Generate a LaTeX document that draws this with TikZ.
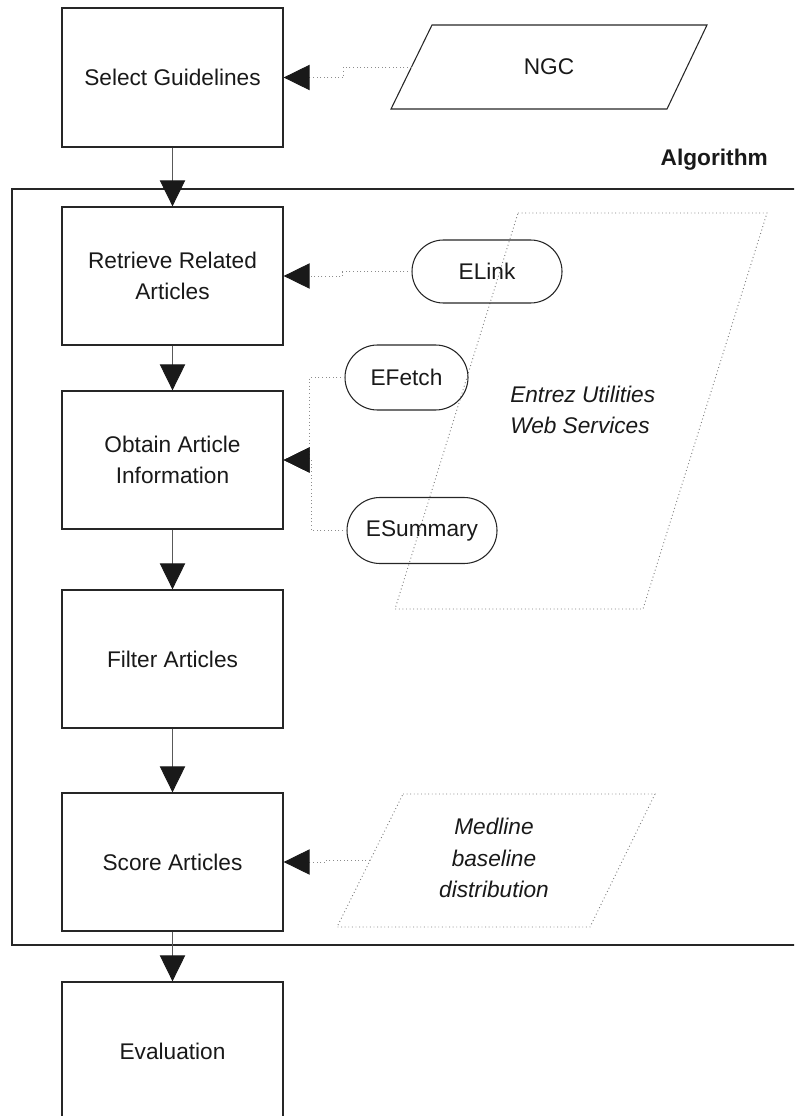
\documentclass[tikz,border=0pt]{standalone}
\usepackage{fontspec}
\setmainfont{Liberation Sans}
\usetikzlibrary{arrows.meta,shapes.misc}
\tikzset{
  procbox/.style={draw=black!85, line width=1pt, minimum width=165.75pt, minimum height=103.5pt, align=center, inner sep=0pt},
  svcbox/.style={rounded rectangle, draw=black!85, line width=0.8pt, inner sep=0pt},
  flow/.style={draw=black!65, line width=0.7pt, -{Triangle[length=19.5pt,width=19pt,color=black!90]}},
  conn/.style={draw=black!45, line width=0.7pt, dotted, -{Triangle[length=19.5pt,width=19pt,color=black!90]}},
  inputshape/.style={draw=black!85, line width=0.8pt},
  dataset/.style={draw=black!50, line width=0.7pt, dotted},
  lbl/.style={font=\fontsize{17}{23.5}\selectfont, text=black!90},
}
\begin{document}
\begin{tikzpicture}[x=0.75pt,y=-0.75pt]
\useasboundingbox (0,0) rectangle (794,1116);
\clip (0,0) rectangle (794,1116);

% Algorithm frame (open at the right)
\draw[black!85, line width=1pt] (800,189) -- (12,189) -- (12,945) -- (800,945);
\node[lbl, font=\fontsize{17}{23.5}\selectfont\bfseries, anchor=east, inner sep=0pt] (alg) at (768,160) {Algorithm};

% process boxes
\node[procbox, lbl, minimum height=104.25pt] (sg) at (172.5,77.5) {Select Guidelines};
\node[procbox, lbl] (rra) at (172.5,276) {Retrieve Related\\Articles};
\node[procbox, lbl] (oai) at (172.5,460) {Obtain Article\\Information};
\node[procbox, lbl] (fa) at (172.5,659) {Filter Articles};
\node[procbox, lbl] (sa) at (172.5,862) {Score Articles};
\node[procbox, lbl] (ev) at (172.5,1051) {Evaluation};

% NGC input
\draw[inputshape] (432,25) -- (707,25) -- (667,109) -- (391,109) -- cycle;
\node[lbl] (ngc) at (549,67) {NGC};
\coordinate (ngcL) at (411.5,67);

% Entrez Utilities dataset
\draw[dataset] (518,213) -- (767,213) -- (643,609) -- (395,609) -- cycle;
\node[lbl, font=\fontsize{17}{23.5}\selectfont\itshape, align=left, anchor=west, inner sep=0pt] (entrez) at (510,410) {Entrez Utilities\\Web Services};

% services
\node[svcbox, lbl, minimum width=112.5pt, minimum height=47.25pt] (elink) at (487,271.5) {ELink};
\node[svcbox, lbl, minimum width=92.25pt, minimum height=48.75pt] (efetch) at (406.5,377.5) {EFetch};
\node[svcbox, lbl, minimum width=112.5pt, minimum height=49.5pt] (esum) at (422,530.5) {ESummary};

% Medline dataset
\draw[dataset] (403,794) -- (655,794) -- (590,927) -- (337,927) -- cycle;
\node[lbl, font=\fontsize{17}{23.5}\selectfont\itshape, align=center] (med) at (494,858) {Medline\\baseline\\distribution};
\coordinate (medL) at (370,860.5);

% main flow
\draw[flow] (sg.south) -- (rra.north);
\draw[flow] (rra.south) -- (oai.north);
\draw[flow] (oai.south) -- (fa.north);
\draw[flow] (fa.south) -- (sa.north);
\draw[flow] (sa.south) -- (ev.north);

% dotted connectors
\draw[conn] (ngcL) -- ++(-68,0) |- (sg.east);
\draw[conn] (elink.west) -- ++(-69,0) |- (rra.east);
\draw[conn] (efetch.west) -- ++(-35,0) |- (oai.east);
\draw[conn] (esum.west) -- ++(-35,0) |- (oai.east);
\draw[conn] (medL) -- ++(-45,0) |- (sa.east);
\end{tikzpicture}
\end{document}
